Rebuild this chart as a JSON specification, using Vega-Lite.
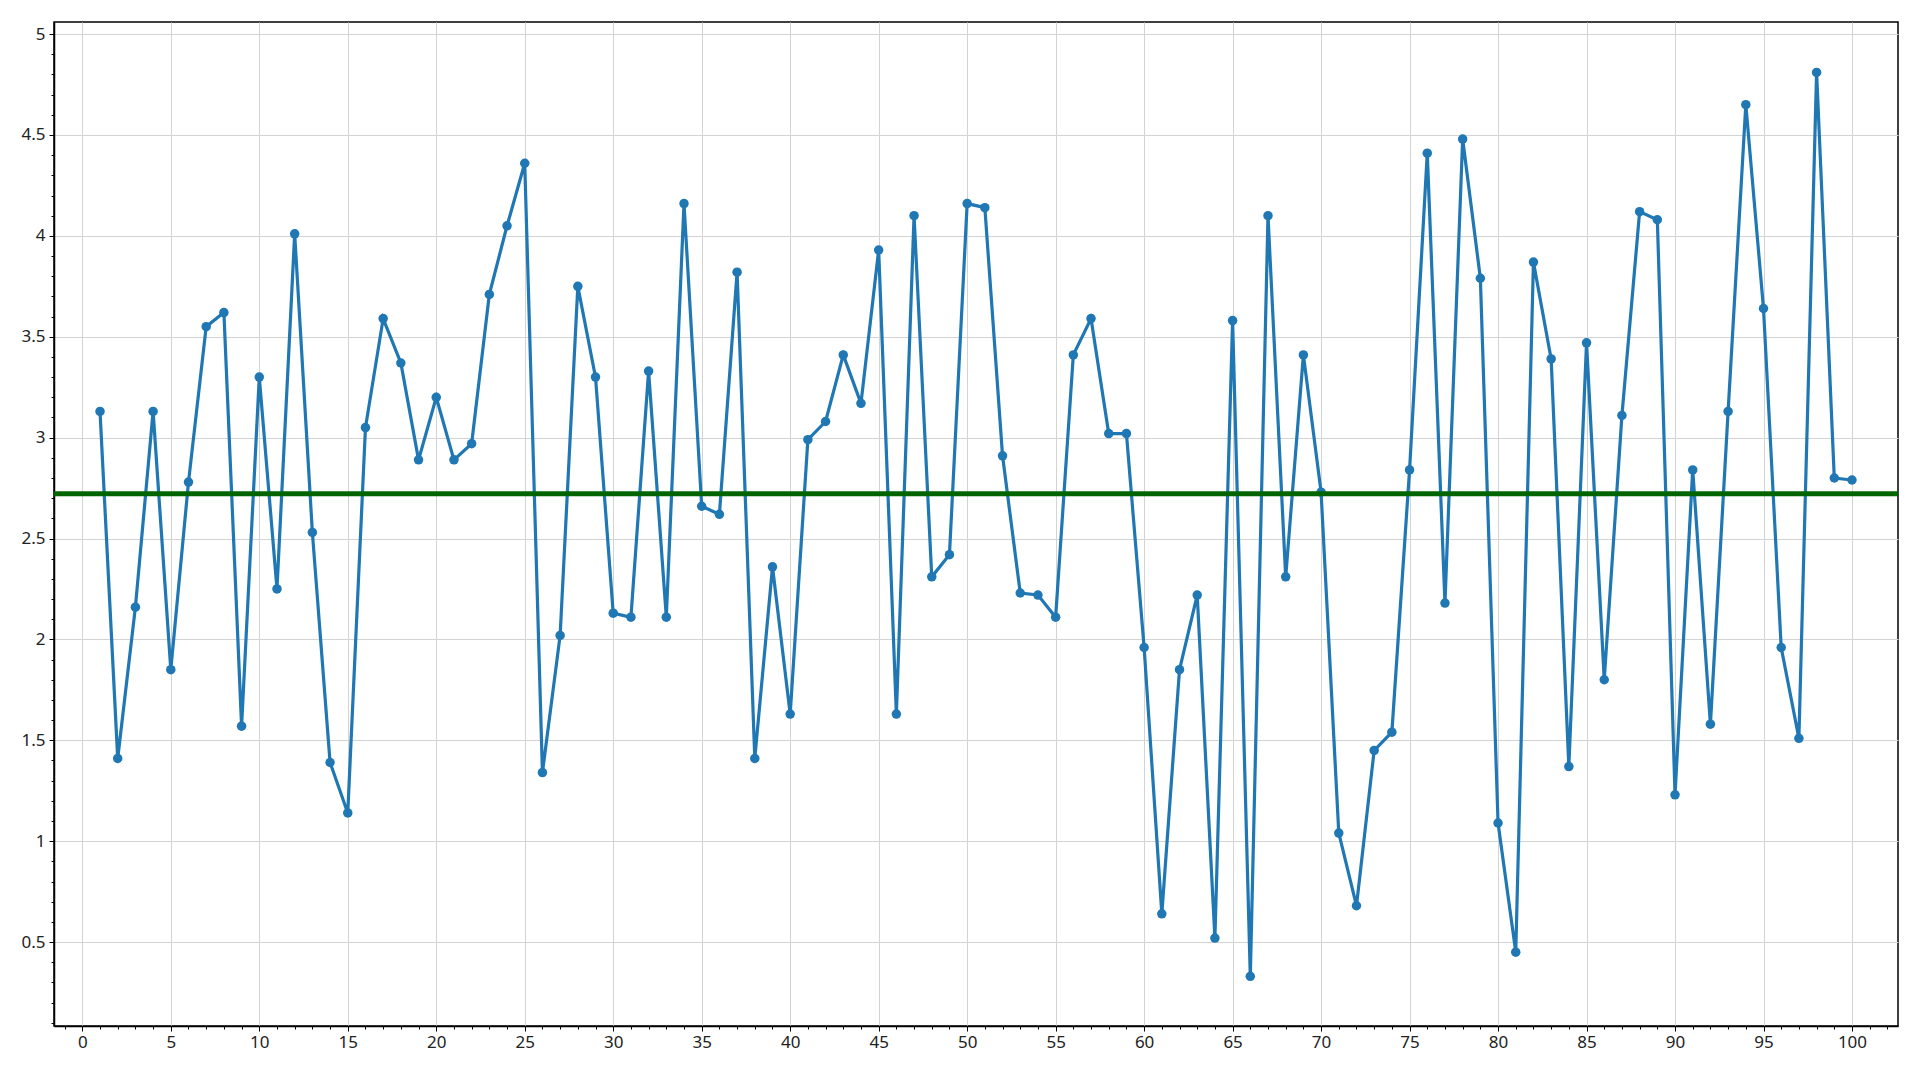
{
  "$schema": "https://vega.github.io/schema/vega-lite/v6.json",
  "width": 1844,
  "height": 1004,
  "autosize": {"type": "none"},
  "padding": {"left": 54, "top": 22, "right": 22, "bottom": 54},
  "background": "white",
  "config": {
    "view": {"stroke": "black", "strokeWidth": 1.5},
    "axis": {
      "labelFont": "Noto Sans",
      "labelFontSize": 17,
      "labelColor": "#222222",
      "tickColor": "#000000",
      "domainColor": "#000000",
      "domainWidth": 1.5,
      "gridColor": "#d3d3d3",
      "gridWidth": 1,
      "title": null
    }
  },
  "data": {
    "values": [
      {"x": 1, "y": 3.13}, {"x": 2, "y": 1.41}, {"x": 3, "y": 2.16}, {"x": 4, "y": 3.13}, {"x": 5, "y": 1.85},
      {"x": 6, "y": 2.78}, {"x": 7, "y": 3.55}, {"x": 8, "y": 3.62}, {"x": 9, "y": 1.57}, {"x": 10, "y": 3.30},
      {"x": 11, "y": 2.25}, {"x": 12, "y": 4.01}, {"x": 13, "y": 2.53}, {"x": 14, "y": 1.39}, {"x": 15, "y": 1.14},
      {"x": 16, "y": 3.05}, {"x": 17, "y": 3.59}, {"x": 18, "y": 3.37}, {"x": 19, "y": 2.89}, {"x": 20, "y": 3.20},
      {"x": 21, "y": 2.89}, {"x": 22, "y": 2.97}, {"x": 23, "y": 3.71}, {"x": 24, "y": 4.05}, {"x": 25, "y": 4.36},
      {"x": 26, "y": 1.34}, {"x": 27, "y": 2.02}, {"x": 28, "y": 3.75}, {"x": 29, "y": 3.30}, {"x": 30, "y": 2.13},
      {"x": 31, "y": 2.11}, {"x": 32, "y": 3.33}, {"x": 33, "y": 2.11}, {"x": 34, "y": 4.16}, {"x": 35, "y": 2.66},
      {"x": 36, "y": 2.62}, {"x": 37, "y": 3.82}, {"x": 38, "y": 1.41}, {"x": 39, "y": 2.36}, {"x": 40, "y": 1.63},
      {"x": 41, "y": 2.99}, {"x": 42, "y": 3.08}, {"x": 43, "y": 3.41}, {"x": 44, "y": 3.17}, {"x": 45, "y": 3.93},
      {"x": 46, "y": 1.63}, {"x": 47, "y": 4.10}, {"x": 48, "y": 2.31}, {"x": 49, "y": 2.42}, {"x": 50, "y": 4.16},
      {"x": 51, "y": 4.14}, {"x": 52, "y": 2.91}, {"x": 53, "y": 2.23}, {"x": 54, "y": 2.22}, {"x": 55, "y": 2.11},
      {"x": 56, "y": 3.41}, {"x": 57, "y": 3.59}, {"x": 58, "y": 3.02}, {"x": 59, "y": 3.02}, {"x": 60, "y": 1.96},
      {"x": 61, "y": 0.64}, {"x": 62, "y": 1.85}, {"x": 63, "y": 2.22}, {"x": 64, "y": 0.52}, {"x": 65, "y": 3.58},
      {"x": 66, "y": 0.33}, {"x": 67, "y": 4.10}, {"x": 68, "y": 2.31}, {"x": 69, "y": 3.41}, {"x": 70, "y": 2.73},
      {"x": 71, "y": 1.04}, {"x": 72, "y": 0.68}, {"x": 73, "y": 1.45}, {"x": 74, "y": 1.54}, {"x": 75, "y": 2.84},
      {"x": 76, "y": 4.41}, {"x": 77, "y": 2.18}, {"x": 78, "y": 4.48}, {"x": 79, "y": 3.79}, {"x": 80, "y": 1.09},
      {"x": 81, "y": 0.45}, {"x": 82, "y": 3.87}, {"x": 83, "y": 3.39}, {"x": 84, "y": 1.37}, {"x": 85, "y": 3.47},
      {"x": 86, "y": 1.80}, {"x": 87, "y": 3.11}, {"x": 88, "y": 4.12}, {"x": 89, "y": 4.08}, {"x": 90, "y": 1.23},
      {"x": 91, "y": 2.84}, {"x": 92, "y": 1.58}, {"x": 93, "y": 3.13}, {"x": 94, "y": 4.65}, {"x": 95, "y": 3.64},
      {"x": 96, "y": 1.96}, {"x": 97, "y": 1.51}, {"x": 98, "y": 4.81}, {"x": 99, "y": 2.80}, {"x": 100, "y": 2.79}
    ]
  },
  "encoding": {
    "x": {
      "field": "x",
      "type": "quantitative",
      "scale": {"domain": [-1.6, 102.6], "nice": false, "zero": false},
      "axis": {
        "values": [-1,0,1,2,3,4,5,6,7,8,9,10,11,12,13,14,15,16,17,18,19,20,21,22,23,24,25,26,27,28,29,30,31,32,33,34,35,36,37,38,39,40,41,42,43,44,45,46,47,48,49,50,51,52,53,54,55,56,57,58,59,60,61,62,63,64,65,66,67,68,69,70,71,72,73,74,75,76,77,78,79,80,81,82,83,84,85,86,87,88,89,90,91,92,93,94,95,96,97,98,99,100,101,102],
        "labelExpr": "abs(datum.value % 5) == 0 ? format(datum.value, 'd') : ''",
        "gridOpacity": {"condition": {"test": "abs(datum.value % 5) == 0", "value": 1}, "value": 0},
        "tickSize": {"condition": {"test": "abs(datum.value % 5) == 0", "value": 5}, "value": 3},
        "labelPadding": 3,
        "labelFlush": false,
        "labelOverlap": false
      }
    },
    "y": {
      "field": "y",
      "type": "quantitative",
      "scale": {"domain": [0.084, 5.06], "nice": false, "zero": false},
      "axis": {
        "values": [0.1,0.2,0.3,0.4,0.5,0.6,0.7,0.8,0.9,1,1.1,1.2,1.3,1.4,1.5,1.6,1.7,1.8,1.9,2,2.1,2.2,2.3,2.4,2.5,2.6,2.7,2.8,2.9,3,3.1,3.2,3.3,3.4,3.5,3.6,3.7,3.8,3.9,4,4.1,4.2,4.3,4.4,4.5,4.6,4.7,4.8,4.9,5],
        "labelExpr": "abs(round(datum.value * 10) % 5) == 0 ? format(datum.value, '~g') : ''",
        "gridOpacity": {"condition": {"test": "abs(round(datum.value * 10) % 5) == 0", "value": 1}, "value": 0},
        "tickSize": {"condition": {"test": "abs(round(datum.value * 10) % 5) == 0", "value": 5}, "value": 3},
        "labelPadding": 4,
        "labelFlush": false,
        "labelOverlap": false
      }
    }
  },
  "layer": [
    {"mark": {"type": "line", "color": "#1f77b4", "strokeWidth": 3.2}},
    {"mark": {"type": "point", "filled": true, "shape": "circle", "size": 90, "color": "#1f77b4", "opacity": 1}},
    {
      "mark": {"type": "rule", "color": "#006400", "strokeWidth": 5},
      "encoding": {
        "x": {"value": 0},
        "x2": {"value": 1844},
        "y": {"aggregate": "mean", "field": "y", "type": "quantitative"}
      }
    }
  ]
}
